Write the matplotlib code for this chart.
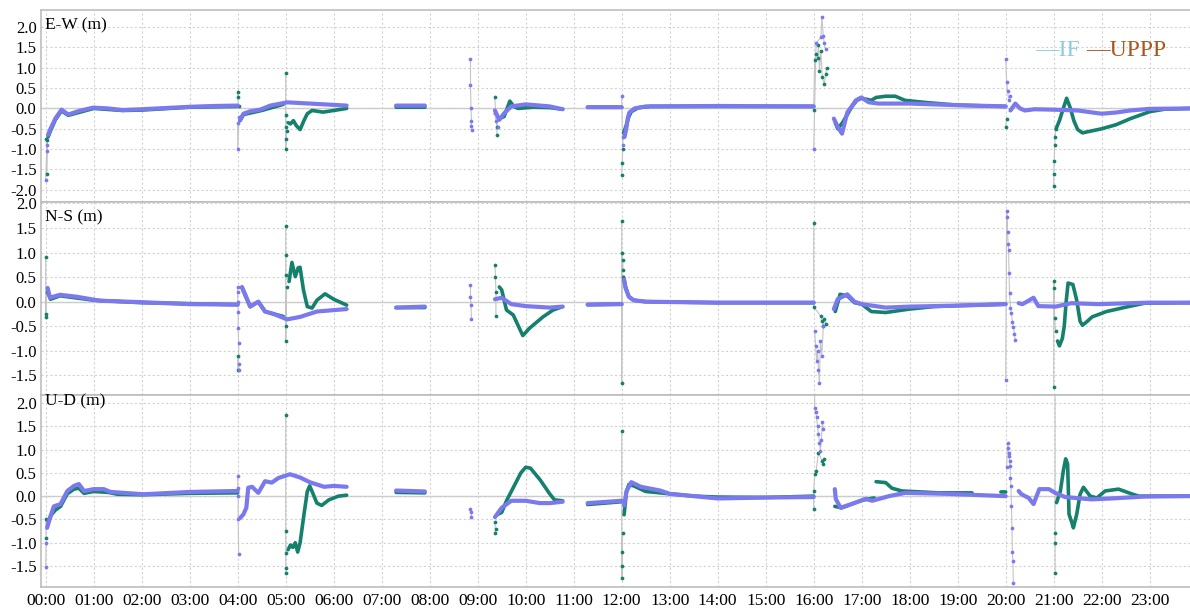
import numpy as np
import matplotlib.pyplot as plt

plt.rcParams['font.family'] = ['Liberation Serif', 'DejaVu Serif']
plt.rcParams['axes.unicode_minus'] = False

B = (np.nan, np.nan)  # break between data blocks

# hours (decimal) vs position error (m); IF = violet dots, UPPP = teal dots
# ---------------- E-W ----------------
ew_if_track = [(0.05, -0.65), (0.1, -0.5), (0.15, -0.38), (0.2, -0.25), (0.33, -0.03), (0.47, -0.15),
               (0.7, -0.06), (0.99, 0.02), (1.3, 0.0), (1.6, -0.04), (2.0, -0.02), (2.5, 0.01), (3.0, 0.04),
               (3.5, 0.06), (4.0, 0.07), B,
               (4.05, -0.28), (4.12, -0.13), (4.26, -0.07), (4.47, -0.03), (4.68, 0.07), (5.03, 0.15),
               (5.5, 0.12), (6.27, 0.07), B,
               (7.3, 0.07), (7.9, 0.07), B,
               (9.36, -0.05), (9.45, -0.28), (9.55, -0.12), (9.7, 0.05), (10.0, 0.1), (10.5, 0.05), (10.77, -0.02), B,
               (11.29, 0.03), (12.0, 0.03), B,
               (12.06, -0.7), (12.1, -0.46), (12.13, -0.22), (12.16, -0.1), (12.27, 0.0), (12.51, 0.05),
               (14.0, 0.06), (16.0, 0.05), B,
               (16.42, -0.25), (16.5, -0.45), (16.59, -0.62), (16.7, -0.1), (16.88, 0.2), (16.99, 0.27),
               (17.15, 0.15), (17.35, 0.12), (18.0, 0.12), (19.0, 0.08), (20.0, 0.05), B,
               (20.1, -0.05), (20.2, 0.12), (20.3, 0.0), (20.4, -0.05), (20.6, -0.02), (21.0, -0.03),
               (21.5, -0.05), (22.0, -0.13), (22.3, -0.1), (22.6, -0.05), (23.0, -0.01), (23.84, 0.0)]
ew_if_spikes = [(0.0, -1.77), (0.02, -1.05), (0.03, -0.9), B,
                (4.0, -0.37), (4.0, -1.0), (4.03, -0.2), B,
                (8.85, 1.22), (8.85, 0.58), (8.86, 0.0), (8.87, -0.3), (8.87, -0.42), (8.88, -0.52), B,
                (9.36, -0.1), (9.38, -0.3), (9.42, -0.45), B,
                (12.0, 0.3), (12.02, -0.9), (12.03, -0.7), B,
                (16.0, -1.0), (16.05, 1.6), (16.15, 1.75), (16.17, 2.26), (16.2, 1.79), (16.22, 1.6), (16.25, 1.45), B,
                (20.0, 1.22), (20.02, 0.64), (20.04, 0.44), (20.06, 0.2), (20.08, 0.3)]
ew_uppp_track = [(0.05, -0.7), (0.1, -0.55), (0.15, -0.42), (0.2, -0.28), (0.33, -0.06), (0.47, -0.17),
                 (1.0, 0.0), (1.6, -0.05), (2.0, -0.04), (3.0, 0.03), (4.0, 0.05), B,
                 (4.05, -0.3), (4.12, -0.15), (4.5, -0.05), (4.95, 0.1), B,
                 (5.05, -0.35), (5.1, -0.38), (5.16, -0.3), (5.22, -0.42), (5.3, -0.52), (5.38, -0.3),
                 (5.45, -0.13), (5.55, -0.05), (5.78, -0.09), (6.0, -0.05), (6.27, 0.0), B,
                 (7.3, 0.03), (7.9, 0.03), B,
                 (9.45, -0.25), (9.55, -0.2), (9.67, 0.18), (9.75, 0.05), (9.84, 0.0), (10.15, 0.03),
                 (10.5, 0.02), (10.77, -0.02), B,
                 (11.29, 0.03), (12.0, 0.03), B,
                 (12.04, -0.6), (12.1, -0.4), (12.15, -0.2), (12.2, -0.08), (12.35, 0.02), (12.6, 0.05), (16.0, 0.05), B,
                 (16.45, -0.35), (16.5, -0.5), (16.6, -0.35), (16.7, -0.15), (16.8, 0.05), (16.9, 0.2),
                 (17.0, 0.25), (17.2, 0.2), (17.3, 0.27), (17.5, 0.3), (17.7, 0.3), (17.9, 0.2), (18.3, 0.15),
                 (19.0, 0.08), (20.0, 0.05), B,
                 (21.05, -0.5), (21.12, -0.3), (21.2, 0.0), (21.27, 0.25), (21.35, 0.0), (21.42, -0.3),
                 (21.5, -0.52), (21.6, -0.6), (21.8, -0.55), (22.0, -0.5), (22.3, -0.4), (22.6, -0.25),
                 (23.0, -0.08), (23.3, -0.02), (23.84, 0.0)]
ew_uppp_spikes = [(0.0, -0.75), (0.02, -0.78), (0.02, -1.6), (0.04, -0.62), B,
                  (4.0, 0.4), (4.0, 0.28), (4.02, 0.05), B,
                  (5.0, 0.87), (5.0, -0.17), (5.0, -0.45), (5.0, -0.74), (5.0, -1.0), (5.02, -0.55), B,
                  (9.36, 0.27), (9.37, -0.1), (9.4, -0.45), (9.4, -0.66), B,
                  (12.0, -1.63), (12.01, -1.34), (12.02, -1.0), B,
                  (16.0, -0.05), (16.02, 1.2), (16.05, 1.35), (16.08, 1.25), (16.1, 1.55), (16.12, 0.93),
                  (16.15, 1.4), (16.18, 0.77), (16.22, 0.6), (16.25, 0.85), (16.27, 1.0), B,
                  (20.0, -0.45), (20.02, -0.25), B,
                  (21.0, -1.9), (21.0, -1.6), (21.01, -1.3), (21.02, -0.9), (21.03, -0.7), (21.04, -0.5)]

# ---------------- N-S ----------------
ns_if_track = [(0.04, 0.28), (0.09, 0.08), (0.15, 0.1), (0.3, 0.14), (0.65, 0.1), (1.13, 0.02),
               (2.0, -0.01), (3.0, -0.05), (4.0, -0.06), B,
               (4.09, 0.3), (4.16, 0.14), (4.26, -0.1), (4.43, 0.0), (4.57, -0.2), (4.75, -0.25),
               (5.03, -0.36), (5.3, -0.31), (5.65, -0.2), (6.27, -0.15), B,
               (7.3, -0.12), (7.9, -0.1), B,
               (9.36, 0.05), (9.5, 0.08), (9.7, -0.05), (10.0, -0.09), (10.5, -0.12), (10.77, -0.1), B,
               (11.29, -0.06), (12.0, -0.05), B,
               (12.05, 0.45), (12.08, 0.28), (12.15, 0.1), (12.25, 0.03), (12.5, 0.0), (14.0, -0.02), (16.0, -0.02), B,
               (16.42, -0.15), (16.5, 0.05), (16.6, 0.1), (16.7, 0.15), (16.85, 0.0), (17.0, -0.05),
               (17.5, -0.12), (18.0, -0.1), (19.0, -0.08), (20.0, -0.05), B,
               (20.27, -0.03), (20.35, -0.05), (20.44, 0.0), (20.58, 0.08), (20.68, -0.09), (21.04, -0.1),
               (21.37, -0.03), (21.93, -0.05), (22.97, -0.02), (23.84, -0.02)]
ns_if_spikes = [(4.0, 0.3), (4.0, 0.2), (4.0, 0.0), (4.01, -0.2), (4.01, -0.54), (4.02, -0.85),
                (4.02, -1.26), (4.03, -1.4), B,
                (8.85, 0.34), (8.85, 0.1), (8.86, -0.07), (8.87, -0.36), B,
                (16.02, -0.6), (16.04, -0.9), (16.06, -1.2), (16.08, -1.0), (16.1, -1.4), (16.12, -1.65),
                (16.14, -0.8), (16.17, -1.1), (16.2, -0.5), B,
                (20.0, -1.6), (20.02, 1.85), (20.03, 1.72), (20.04, 1.41), (20.05, 1.17), (20.06, 1.06),
                (20.07, 0.59), (20.08, 0.18), (20.1, -0.13), (20.12, -0.23), (20.14, -0.41), (20.16, -0.51),
                (20.18, -0.65), (20.2, -0.79)]
ns_uppp_track = [(0.04, 0.2), (0.1, 0.05), (0.3, 0.12), (1.0, 0.03), (2.0, -0.02), (4.0, -0.06), B,
                 (4.09, 0.28), (4.16, 0.12), (4.26, -0.1), (4.43, 0.0), (4.57, -0.2), (4.75, -0.25), (4.95, -0.3), B,
                 (5.07, 0.41), (5.13, 0.8), (5.2, 0.51), (5.26, 0.69), (5.3, 0.7), (5.37, 0.24), (5.45, -0.1),
                 (5.55, -0.13), (5.65, 0.03), (5.82, 0.16), (6.0, 0.05), (6.27, -0.07), B,
                 (7.3, -0.12), (7.9, -0.12), B,
                 (9.45, 0.3), (9.5, 0.24), (9.6, -0.17), (9.74, -0.27), (9.84, -0.48), (9.94, -0.69),
                 (10.08, -0.54), (10.36, -0.31), (10.57, -0.17), (10.77, -0.1), B,
                 (11.29, -0.06), (12.0, -0.05), B,
                 (12.04, 0.5), (12.08, 0.3), (12.15, 0.1), (12.25, 0.03), (12.5, 0.0), (14.0, -0.02), (16.0, -0.02), B,
                 (16.45, -0.2), (16.55, 0.15), (16.7, 0.12), (16.85, -0.02), (17.0, -0.05), (17.2, -0.2),
                 (17.5, -0.22), (18.0, -0.15), (18.5, -0.1), (19.0, -0.08), (20.0, -0.05), B,
                 (21.08, -0.8), (21.12, -0.9), (21.18, -0.75), (21.22, -0.5), (21.26, 0.0), (21.3, 0.38),
                 (21.4, 0.35), (21.48, 0.03), (21.55, -0.4), (21.6, -0.48), (21.7, -0.4), (21.8, -0.31),
                 (22.1, -0.2), (22.6, -0.09), (22.9, -0.03), (23.84, -0.02)]
ns_uppp_spikes = [(0.0, 0.9), (0.0, -0.25), (0.0, -0.31), (0.02, 0.2), B,
                  (4.0, -1.1), (4.0, -1.4), B,
                  (5.0, 1.54), (5.0, 0.96), (5.0, 0.55), (5.0, -0.5), (5.0, -0.8), (5.02, 0.3), B,
                  (9.36, 0.75), (9.37, 0.5), (9.38, 0.2), (9.38, -0.3), B,
                  (12.0, 1.64), (12.0, -1.65), (12.01, 1.0), (12.02, 0.85), (12.03, 0.65), B,
                  (16.0, 1.6), (16.0, -0.1), (16.15, -0.3), (16.18, -0.4), (16.2, -0.5), (16.22, -0.35),
                  (16.25, -0.45), B,
                  (21.0, -1.73), (21.0, 0.43), (21.01, 0.28), (21.02, -0.34), (21.04, -0.6)]

# ---------------- U-D ----------------
ud_if_track = [(0.03, -0.68), (0.1, -0.43), (0.17, -0.22), (0.31, -0.17), (0.45, 0.11), (0.59, 0.22),
               (0.69, 0.26), (0.8, 0.11), (1.0, 0.15), (1.21, 0.15), (1.35, 0.09), (2.04, 0.04),
               (3.0, 0.09), (4.0, 0.11), B,
               (4.05, -0.47), (4.12, -0.39), (4.18, -0.25), (4.22, 0.18), (4.3, 0.2), (4.43, 0.07),
               (4.57, 0.32), (4.71, 0.29), (4.85, 0.39), (5.09, 0.47), (5.3, 0.4), (5.5, 0.3),
               (5.8, 0.2), (6.0, 0.22), (6.27, 0.2), B,
               (7.3, 0.12), (7.9, 0.1), B,
               (9.36, -0.45), (9.5, -0.25), (9.7, -0.1), (10.0, -0.1), (10.3, -0.15), (10.5, -0.15), (10.77, -0.12), B,
               (11.29, -0.15), (12.0, -0.1), B,
               (12.05, -0.2), (12.1, 0.1), (12.2, 0.3), (12.4, 0.2), (12.8, 0.12), (13.0, 0.05),
               (14.0, -0.05), (15.0, -0.03), (16.0, -0.02), B,
               (16.44, 0.15), (16.46, -0.06), (16.56, -0.25), (16.87, -0.14), (17.08, -0.06), (17.22, -0.1),
               (17.57, 0.0), (17.91, 0.07), (18.75, 0.05), (20.0, 0.0), B,
               (20.27, 0.11), (20.33, 0.04), (20.48, -0.04), (20.58, -0.17), (20.7, 0.15), (20.9, 0.15),
               (21.03, 0.07), (21.24, -0.02), (21.79, -0.07), (22.2, -0.05), (22.9, -0.01), (23.84, 0.0)]
ud_if_spikes = [(0.0, -1.53), (0.01, -1.0), B,
                (4.0, 0.43), (4.0, 0.18), (4.01, 0.0), (4.01, -0.5), (4.02, -1.25), B,
                (8.85, -0.28), (8.86, -0.35), (8.87, -0.45), B,
                (16.02, 2.4), (16.02, 1.9), (16.04, 1.8), (16.06, 1.69), (16.08, 1.5), (16.1, 1.33),
                (16.12, 1.15), (16.14, 0.97), (16.16, 1.2), (16.18, 1.6), (16.2, 1.45), B,
                (20.02, 0.63), (20.04, 1.13), (20.05, 1.04), (20.06, 0.93), (20.07, 0.86), (20.08, 0.75),
                (20.09, 0.65), (20.1, 0.39), (20.11, 0.22), (20.12, -0.22), (20.13, -0.68), (20.14, -1.19),
                (20.15, -1.4), (20.16, -1.87)]
ud_uppp_track = [(0.05, -0.55), (0.12, -0.4), (0.2, -0.3), (0.31, -0.22), (0.45, 0.05), (0.59, 0.15),
                 (0.69, 0.17), (0.8, 0.06), (1.0, 0.1), (1.3, 0.08), (1.5, 0.04), (2.0, 0.03), (3.0, 0.06),
                 (4.0, 0.07), B,
                 (5.05, -1.15), (5.1, -1.05), (5.15, -1.1), (5.2, -1.0), (5.25, -1.2), (5.3, -1.0),
                 (5.38, -0.4), (5.45, 0.1), (5.5, 0.22), (5.55, 0.1), (5.65, -0.15), (5.75, -0.2),
                 (5.9, -0.08), (6.1, 0.0), (6.27, 0.02), B,
                 (7.3, 0.08), (7.9, 0.07), B,
                 (9.4, -0.4), (9.5, -0.35), (9.6, -0.1), (9.75, 0.2), (9.9, 0.5), (10.0, 0.62), (10.1, 0.6),
                 (10.3, 0.35), (10.5, 0.05), (10.6, -0.08), (10.77, -0.1), B,
                 (11.29, -0.18), (12.0, -0.12), B,
                 (12.05, -0.4), (12.1, 0.1), (12.15, 0.25), (12.25, 0.22), (12.5, 0.1), (13.0, 0.05),
                 (13.5, 0.0), (14.0, -0.02), (15.0, -0.03), (16.0, 0.0), B,
                 (16.44, -0.22), (16.59, -0.25), (17.0, -0.09), (17.26, -0.04), B,
                 (17.3, 0.31), (17.5, 0.29), (17.63, 0.17), (17.84, 0.11), (18.61, 0.07), (19.3, 0.07), B,
                 (19.9, 0.09), (20.0, 0.09), B,
                 (21.06, -0.14), (21.14, 0.11), (21.17, 0.32), (21.2, 0.54), (21.25, 0.8), (21.29, 0.69),
                 (21.32, -0.39), (21.37, -0.54), (21.41, -0.68), (21.48, -0.39), (21.55, 0.04), (21.62, 0.19),
                 (21.76, 0.0), (21.9, -0.04), (22.07, 0.11), (22.35, 0.15), (22.62, 0.05), (22.77, 0.0),
                 (23.84, 0.0)]
ud_uppp_spikes = [(0.0, -0.49), (0.01, -0.9), B,
                  (5.0, 1.74), (5.0, -0.75), (5.0, -1.22), (5.0, -1.55), (5.01, -1.65), B,
                  (9.36, -0.55), (9.37, -0.8), (9.38, -0.7), B,
                  (12.0, 1.4), (12.0, -1.5), (12.01, -1.75), (12.01, -1.2), (12.02, -0.8), B,
                  (16.0, -0.27), (16.0, 0.1), (16.02, 0.47), (16.05, 0.54), (16.1, 0.93), (16.18, 0.75),
                  (16.2, 0.7), (16.22, 0.8), B,
                  (21.03, 2.35), (21.03, -0.79), (21.03, -1.0), (21.03, -1.65)]

panel_names = ['E-W (m)', 'N-S (m)', 'U-D (m)']
panel_ylims = [(-2.3, 2.42), (-1.9, 2.03), (-1.95, 2.17)]
panel_yticks = [np.arange(-2.0, 2.01, 0.5), np.arange(-1.5, 2.01, 0.5), np.arange(-1.5, 2.01, 0.5)]
hour_labels = ['%02d:00' % h for h in range(24)]

IF_COLOR = '#7b79ee'
UPPP_COLOR = '#15806c'
LINK_COLOR = '#c4c4c4'


def split(pairs):
    a = np.array(pairs, dtype=float)
    return a[:, 0], a[:, 1]


fig = plt.figure(figsize=(11.9, 6.1), dpi=100)
boxes = [(10, 202), (202, 395), (395, 587)]
left = 40.7 / 1190
axes = []
for top, bot in boxes:
    ax = fig.add_axes([left, 1 - bot / 610, 1 - left, (bot - top) / 610])
    axes.append(ax)

series = [
    (ew_uppp_track, ew_uppp_spikes, ew_if_track, ew_if_spikes),
    (ns_uppp_track, ns_uppp_spikes, ns_if_track, ns_if_spikes),
    (ud_uppp_track, ud_uppp_spikes, ud_if_track, ud_if_spikes),
]
label_y = [0.922, 0.919, 0.965]

for i, ax in enumerate(axes):
    up_tr, up_sp, if_tr, if_sp = series[i]
    ax.axhline(0, color='#c8c8c8', lw=1.0, zorder=1)
    # thin grey joins of the sparse epochs
    for sp in (up_sp, if_sp):
        t, v = split(sp)
        ax.plot(t, v, color=LINK_COLOR, lw=0.8, zorder=2)
    t, v = split(up_tr)
    ax.plot(t, v, color=UPPP_COLOR, lw=2.6, solid_capstyle='round', zorder=3)
    t, v = split(up_sp)
    ax.plot(t, v, 'o', color=UPPP_COLOR, ms=2.7, mew=0, zorder=4)
    t, v = split(if_tr)
    ax.plot(t, v, color=IF_COLOR, lw=3.0, solid_capstyle='round', zorder=5)
    t, v = split(if_sp)
    ax.plot(t, v, 'o', color=IF_COLOR, ms=2.7, mew=0, zorder=6)

    ax.set_xlim(-0.104, 23.84)
    ax.set_ylim(*panel_ylims[i])
    ax.set_yticks(panel_yticks[i])
    ax.set_yticklabels(['%.1f' % y for y in panel_yticks[i]])
    ax.set_xticks(range(24))
    if i == 2:
        ax.set_xticklabels(hour_labels)
    else:
        ax.set_xticklabels([])
    ax.grid(True, color='#d2d2d2', ls=(0, (2, 2)), lw=0.8, zorder=0)
    ax.tick_params(length=0, labelsize=12, pad=3)
    ax.tick_params(axis='x', labelsize=12.5, pad=4)
    for side in ['top', 'bottom', 'left']:
        ax.spines[side].set_color('#bdbdbd')
        ax.spines[side].set_linewidth(1.2)
    ax.spines['right'].set_visible(False)
    ax.text(0.004, label_y[i], panel_names[i], transform=ax.transAxes,
            fontsize=12.5, va='center', ha='left')

fig.text(1035 / 1190, 1 - 51 / 610, '\u2014IF', color='#8ecae6', fontsize=17, va='center', ha='left')
fig.text(1086 / 1190, 1 - 51 / 610, '\u2014UPPP', color='#a9561c', fontsize=17, va='center', ha='left')

fig.savefig('out.png', dpi=100)
